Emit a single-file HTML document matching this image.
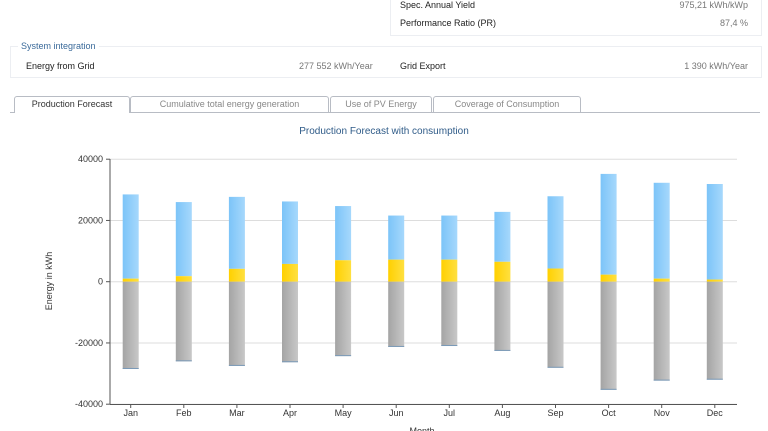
<!DOCTYPE html>
<html><head><meta charset="utf-8"><style>
body{margin:0;width:768px;height:431px;overflow:hidden;background:#fff;font-family:"Liberation Sans",sans-serif;font-size:9px;color:#222;position:relative}
.abs{position:absolute}
.box{position:absolute;border:1px solid #eceef2;background:#fff}
.tab{position:absolute;top:96px;height:15px;border:1px solid #b8bcc4;border-bottom:none;border-radius:3px 3px 0 0;text-align:center;line-height:15px;color:#888;background:#fff}
</style></head><body>
<div class="box" style="left:390px;top:-2px;width:370px;height:36px"></div>
<div class="abs" style="left:400px;top:0px">Spec. Annual Yield</div>
<div class="abs" style="right:20px;top:0px;color:#777">975,21 kWh/kWp</div>
<div class="abs" style="left:400px;top:18px">Performance Ratio (PR)</div>
<div class="abs" style="right:20px;top:18px;color:#777">87,4 %</div>
<div class="box" style="left:10px;top:46px;width:750px;height:30px"></div>
<div class="abs" style="left:18px;top:41px;color:#3a6a9a;background:#fff;padding:0 3px">System integration</div>
<div class="abs" style="left:26px;top:61px">Energy from Grid</div>
<div class="abs" style="left:299px;top:61px;color:#777">277 552 kWh/Year</div>
<div class="abs" style="left:400px;top:61px">Grid Export</div>
<div class="abs" style="right:20px;top:61px;color:#777">1 390 kWh/Year</div>
<div class="abs" style="left:10px;top:112px;width:750px;height:1px;background:#b8bcc4"></div>
<div class="tab" style="left:14px;width:114px;color:#333;height:16px">Production Forecast</div>
<div class="tab" style="left:130px;width:197px">Cumulative total energy generation</div>
<div class="tab" style="left:330px;width:100px">Use of PV Energy</div>
<div class="tab" style="left:433px;width:146px">Coverage of Consumption</div>
<div class="abs" style="left:0;width:768px;text-align:center;top:126px;font-size:10px;color:#2f5b88">Production Forecast with consumption</div>
<svg id="chart" class="abs" style="left:0;top:0" width="768" height="431">
<defs>
<linearGradient id="gb" x1="0" x2="1"><stop offset="0" stop-color="#7cc4f8"/><stop offset="1" stop-color="#a6d8fc"/></linearGradient>
<linearGradient id="gy" x1="0" x2="1"><stop offset="0" stop-color="#ffd000"/><stop offset="1" stop-color="#ffe040"/></linearGradient>
<linearGradient id="gg" x1="0" x2="1"><stop offset="0" stop-color="#a4a4a4"/><stop offset="1" stop-color="#c8c8c8"/></linearGradient>
</defs>
</svg>
<script>
const months=["Jan","Feb","Mar","Apr","May","Jun","Jul","Aug","Sep","Oct","Nov","Dec"];
const production=[28500,26000,27700,26200,24700,21600,21600,22800,27900,35200,32300,31900];
const selfUse=[1000,1800,4200,5800,7000,7200,7200,6500,4300,2300,1000,700];
const consumption=[-28500,-26000,-27500,-26300,-24300,-21300,-21000,-22600,-28100,-35300,-32300,-32000];
const yTicks=[40000,20000,0,-20000,-40000];
const svg=document.getElementById('chart');
const NS='http://www.w3.org/2000/svg';
const y=v=>281.7-v*122.5/40000;
const x=i=>130.7+i*53.1;
function el(t,a){const e=document.createElementNS(NS,t);for(const k in a)e.setAttribute(k,a[k]);svg.appendChild(e);return e;}
yTicks.forEach(t=>{
 const g=el('line',{x1:110,x2:737,y1:y(t),y2:y(t),stroke:'#ddd'});
 
 
 el('line',{x1:106,x2:110,y1:y(t),y2:y(t),stroke:'#555'});
 const tx=el('text',{x:103,y:y(t)+3,'text-anchor':'end','font-size':9,fill:'#333'});tx.textContent=t;
 
 
});
el('line',{x1:110,x2:110,y1:159,y2:404.5,stroke:'#555'});
el('line',{x1:110,x2:737,y1:404.5,y2:404.5,stroke:'#555'});
months.forEach((m,i)=>{
 const cx=x(i),w=16;
 const b=el('rect',{x:cx-w/2,y:y(production[i]),width:w,height:y(selfUse[i])-y(production[i]),fill:'url(#gb)'});
 
 
 const s=el('rect',{x:cx-w/2,y:y(selfUse[i]),width:w,height:y(0)-y(selfUse[i]),fill:'url(#gy)'});
 
 
 const c=el('rect',{x:cx-w/2,y:y(0),width:w,height:y(consumption[i])-y(0),fill:'url(#gg)'});
 
 
 el('rect',{x:cx-w/2,y:y(consumption[i])-1,width:w,height:1,fill:'#7a9ab8'});
 el('line',{x1:cx,x2:cx,y1:404.5,y2:408,stroke:'#555'});
 const t=el('text',{x:cx,y:416,'text-anchor':'middle','font-size':9,fill:'#333'});t.textContent=m;
 
 
});
const yl=el('text',{x:0,y:0,transform:'translate(52,281) rotate(-90)','text-anchor':'middle','font-size':9,fill:'#333'});yl.textContent='Energy in kWh';


const xl=el('text',{x:422,y:434,'text-anchor':'middle','font-size':9,fill:'#333'});xl.textContent='Month';


</script>
</body></html>
